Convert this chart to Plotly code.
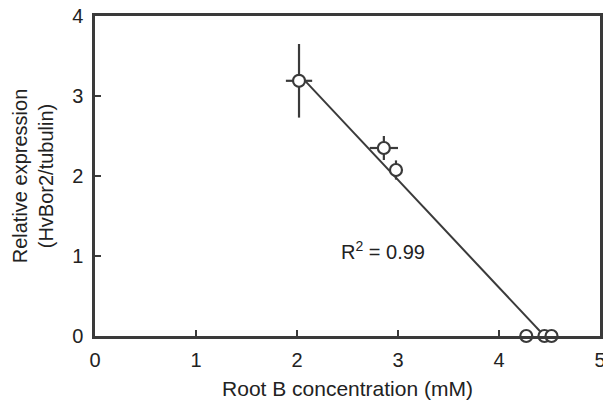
import plotly.graph_objects as go

# Data
root_b = [2.02, 2.86, 2.98, 4.27, 4.45, 4.52]
expression = [3.19, 2.35, 2.075, 0.0, 0.0, 0.0]
root_b_err = [0.13, 0.14, 0.0, 0.0, 0.0, 0.0]
expression_err = [0.46, 0.15, 0.12, 0.0, 0.0, 0.0]

fit_x = [2.02, 4.45]
fit_y = [3.27, 0.0]

x_ticks = [0, 1, 2, 3, 4, 5]
y_ticks = [0, 1, 2, 3, 4]

ink = "#3a3a3a"
font = "Liberation Sans, Arial, sans-serif"

fig = go.Figure()
fig.add_trace(go.Scatter(
    x=fit_x, y=fit_y, mode="lines",
    line=dict(color=ink, width=2), showlegend=False, hoverinfo="skip"))
fig.add_trace(go.Scatter(
    x=root_b, y=expression, mode="markers",
    marker=dict(symbol="circle", size=12, color="white",
                line=dict(color=ink, width=2.2)),
    error_x=dict(type="data", array=root_b_err, color=ink, thickness=2.2, width=0),
    error_y=dict(type="data", array=expression_err, color=ink, thickness=2.2, width=0),
    showlegend=False, cliponaxis=False))

fig.add_annotation(x=2.85, y=1.07, text="R<sup>2</sup> = 0.99", showarrow=False,
                   font=dict(family=font, size=20, color="#222"))

fig.update_layout(
    width=603, height=403,
    margin=dict(l=95, r=3, t=16, b=67),
    plot_bgcolor="white", paper_bgcolor="white",
    font=dict(family=font, size=20, color="#222"),
    xaxis=dict(range=[0, 5], tickvals=x_ticks, ticks="inside", ticklen=6,
               tickwidth=2.2, tickcolor=ink, showline=True, linecolor=ink,
               linewidth=2.5, mirror=True, showgrid=False, zeroline=False,
               automargin=False, ticklabelstandoff=4, ticklabeloverflow="allow",
               tickfont=dict(family=font, size=20, color="#222"),
               title=dict(text="Root B concentration (mM)", standoff=12,
                          font=dict(family=font, size=21, color="#222"))),
    yaxis=dict(range=[0, 4], tickvals=y_ticks, ticks="inside", ticklen=6,
               tickwidth=2.2, tickcolor=ink, showline=True, linecolor=ink,
               linewidth=2.5, mirror=True, showgrid=False, zeroline=False,
               automargin=False, ticklabelstandoff=5, ticklabeloverflow="allow",
               tickfont=dict(family=font, size=20, color="#222"),
               title=dict(text="Relative expression<br>(HvBor2/tubulin)", standoff=14,
                          font=dict(family=font, size=20, color="#222"))),
)

# remove the default 8px page margin so the 603x403 figure fills the window exactly
fig.write_html("out.html",
               config={"displayModeBar": False},
               post_script="document.body.style.margin='0';"
                           "document.body.style.overflow='hidden';")
